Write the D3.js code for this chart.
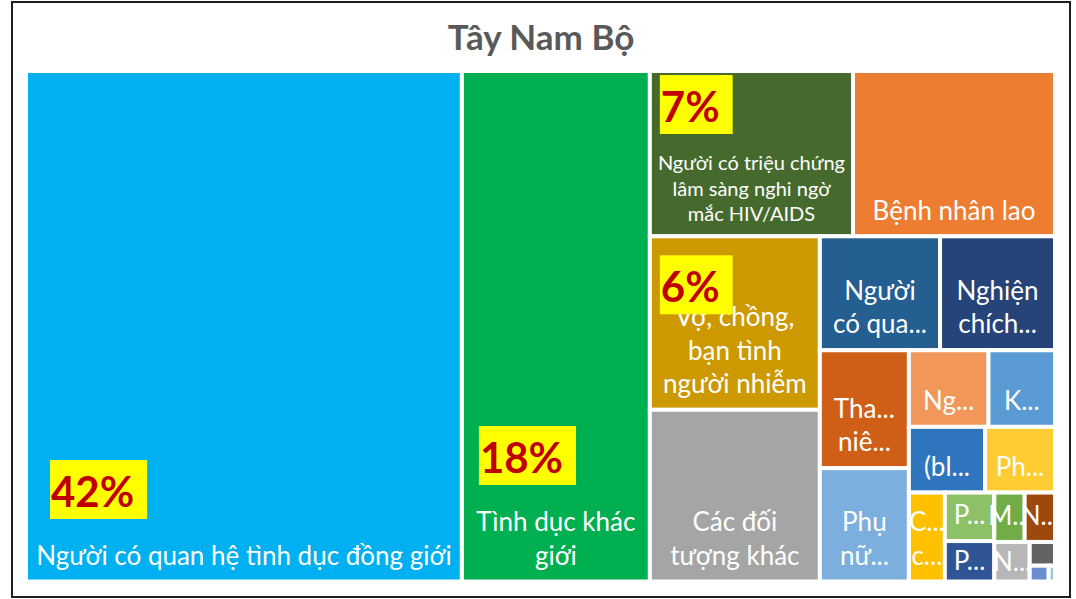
<!DOCTYPE html>
<html>
<head>
<meta charset="utf-8">
<script src="https://cdn.jsdelivr.net/npm/d3@7"></script>
<style>
  body { margin: 0; background: #fff; }
  svg { display: block; }
</style>
</head>
<body>
<div id="chart"></div>
<script>
// categories (label text as Excel shows it, "\n" = line break), values per category
const categories = [
  "Người có quan hệ tình dục đồng giới",
  "Tình dục khác\ngiới",
  "Người có triệu chứng\nlâm sàng nghi ngờ\nmắc HIV/AIDS",
  "Bệnh nhân lao",
  "Vợ, chồng,\nbạn tình\nngười nhiễm",
  "Các đối\ntượng khác",
  "Người\ncó qua...",
  "Nghiện\nchích...",
  "Tha...\nniê...",
  "Phụ\nnữ...",
  "Ng...",
  "K...",
  "(bl...",
  "Ph...",
  "C...\nc...",
  "P...",
  "P...",
  "M...",
  "N...",
  "N...",
  "",   // labels too small to be shown
  "",
  ""
];
const values = [2226, 960, 336, 334, 295, 292, 137, 131, 105, 101, 61, 51, 50, 46, 32, 24, 20, 15, 15, 14, 6, 3, 1];

// yellow percentage call-outs: which category, which text
const noteIndex = [0, 1, 2, 4];
const noteText = ["42%", "18%", "7%", "6%"];

const title = "Tây Nam Bộ";

const palette = [
  "#00B0F0", "#00B050", "#466A2D", "#ED7D31", "#CC9900", "#A5A5A5",
  "#255E91", "#264478", "#CF5F17", "#7CAFDD", "#F1975A", "#5B9BD5",
  "#2F75BD", "#FFCC33", "#FFC000", "#8CC168", "#2F5597", "#70AD47",
  "#9E480E", "#B7B7B7", "#636363", "#698ED0", "#9DC3E6"
];

/////////////////////////////////////////////////////////
//////////////////// Layout settings ////////////////////
/////////////////////////////////////////////////////////
const W = 1076, H = 599;
const plot = { x: 26, y: 71, w: 1029, h: 510.5 };
const labelSize = 26;     // base label font size
const lineH = 33.3;       // label line spacing
// offsets of the call-out boxes from their tile's top-left corner
const noteOffsets = [[24, 389], [17, 355], [10, 4], [10, 19]];
// how many tiles Excel put in each strip
const stripSizes = [1, 1, 2, 2, 2, 2, 2, 2, 1, 2, 2, 1, 1, 1, 1];

const color = d3.scaleOrdinal().domain(d3.range(values.length)).range(palette);

// strips alternate by shape of the remaining space (like squarify), but with Excel's grouping
function stripTile(parent, x0, y0, x1, y1) {
  let nodes = parent.children, value = parent.value, i = 0;
  stripSizes.forEach(size => {
    let row = { children: nodes.slice(i, i + size) };
    row.value = d3.sum(row.children, d => d.value);
    let dx = x1 - x0, dy = y1 - y0;
    if (dx < dy) d3.treemapDice(row, x0, y0, x1, y0 += dy * row.value / value);
    else d3.treemapSlice(row, x0, y0, x0 += dx * row.value / value, y1);
    value -= row.value;
    i += size;
  });
}

let root = d3.hierarchy({ children: values.map((v, i) => ({ i: i, name: categories[i], value: v })) })
  .sum(d => d.value || 0);

d3.treemap()
  .tile(stripTile)
  .size([plot.w, plot.h])
  .round(false)(root);

let svg = d3.select("#chart").append("svg")
  .attr("width", W)
  .attr("height", H);

// outer frame
svg.append("rect")
  .attr("x", 12).attr("y", 2)
  .attr("width", 1058).attr("height", 595)
  .style("fill", "#fff")
  .style("stroke", "#1f1f1f")
  .style("stroke-width", 2);

svg.append("text")
  .attr("x", 541)
  .attr("y", 50)
  .attr("text-anchor", "middle")
  .style("font-family", "Lato, 'Open Sans', sans-serif")
  .style("font-weight", 700)
  .style("font-size", "35px")
  .style("fill", "#595959")
  .text(title);

let g = svg.append("g")
  .attr("transform", "translate(" + plot.x + "," + plot.y + ")");

let tiles = g.selectAll()
  .data(root.leaves())
  .enter()
  .append("g")
  .attr("transform", d => "translate(" + d.x0 + "," + d.y0 + ")");

tiles.append("rect")
  .attr("width", d => d.x1 - d.x0)
  .attr("height", d => d.y1 - d.y0)
  .style("fill", d => color(d.data.i))
  .style("stroke", "#fff")
  .style("stroke-width", 4);

// labels: centred, sitting near the bottom of the tile (centred if the tile is too short)
tiles.each(function (d) {
  let name = d.data.name;
  if (!name) return;
  let lines = name.split("\n");
  let w = d.x1 - d.x0, h = d.y1 - d.y0;
  let t = d3.select(this).append("text")
    .attr("text-anchor", "middle")
    .style("font-family", "Lato, 'Open Sans', sans-serif")
    .style("font-size", labelSize + "px")
    .style("fill", "#fff");
  let spans = t.selectAll("tspan").data(lines).enter().append("tspan")
    .attr("x", w / 2)
    .text(l => l);
  // shrink full (not cut) labels that do not fit the tile width
  let maxW = d3.max(spans.nodes(), n => n.getComputedTextLength());
  let cut = lines.some(l => l.endsWith("..."));
  let fs = labelSize;
  if (!cut && maxW > w - 16) fs = labelSize * (w - 16) / maxW;
  let lh = lineH * fs / labelSize;
  t.style("font-size", fs + "px");
  let n = lines.length;
  let last = h - 2 - (0.3 * fs + 7);
  let top = last - (n - 1) * lh - 0.72 * fs;
  if (top < 6) last = h / 2 + (n - 1) * lh / 2 + 0.35 * fs;
  spans.attr("y", (l, k) => last - (n - 1 - k) * lh);
});

// percentage call-outs
noteIndex.forEach((ci, k) => {
  let leaf = root.leaves().find(l => l.data.i === ci);
  let bx = plot.x + leaf.x0 + noteOffsets[k][0];
  let by = plot.y + leaf.y0 + noteOffsets[k][1];
  let box = svg.append("rect")
    .attr("x", bx).attr("y", by)
    .attr("height", 59)
    .style("fill", "#FFFF00");
  let txt = svg.append("text")
    .attr("x", bx + 1)
    .attr("y", by + 47)
    .style("font-family", "Lato, 'Open Sans', sans-serif")
    .style("font-weight", 700)
    .style("font-size", "42px")
    .style("fill", "#C00000")
    .text(noteText[k]);
  box.attr("width", txt.node().getComputedTextLength() + 14);
});
</script>
</body>
</html>
